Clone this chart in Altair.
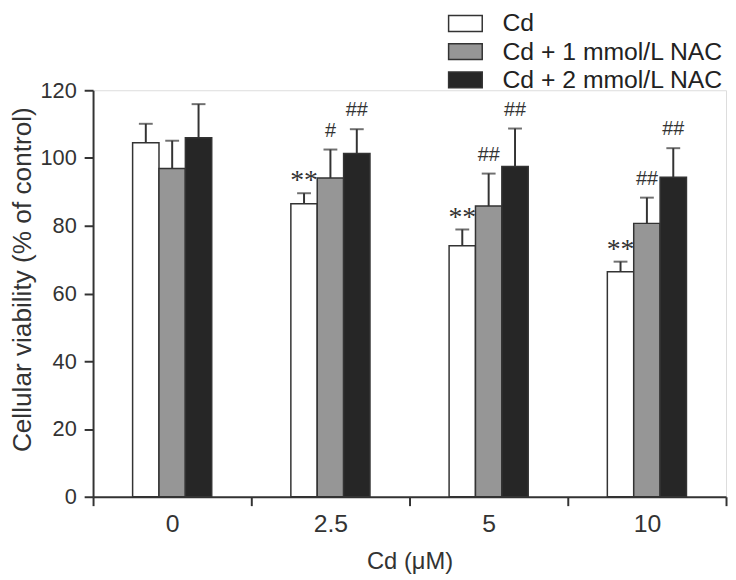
import altair as alt
import pandas as pd

doses = ["0", "2.5", "5", "10"]
series = ["Cd", "Cd + 1 mmol/L NAC", "Cd + 2 mmol/L NAC"]
cd_vals = [104.5, 86.5, 74.1, 66.4]
cd_hi = [110.1, 89.6, 78.9, 69.4]
nac1_vals = [96.9, 94.1, 85.8, 80.7]
nac1_hi = [105.1, 102.5, 95.4, 88.3]
nac2_vals = [106.0, 101.3, 97.5, 94.3]
nac2_hi = [115.9, 108.5, 108.7, 102.9]
cd_marks = ["", "**", "**", "**"]
nac1_marks = ["", "#", "##", "##"]
nac2_marks = ["", "##", "##", "##"]
colors = ["#ffffff", "#969696", "#262626"]

rows = []
for s, vals, his, marks in zip(series, [cd_vals, nac1_vals, nac2_vals],
                               [cd_hi, nac1_hi, nac2_hi],
                               [cd_marks, nac1_marks, nac2_marks]):
    for d, v, h, m in zip(doses, vals, his, marks):
        rows.append({"dose": d, "series": s, "value": v, "hi": h, "mark": m})
df = pd.DataFrame(rows)

ink = "#333333"
font = "Liberation Sans"
x = alt.X("dose:N", sort=doses,
          scale=alt.Scale(paddingInner=0, paddingOuter=0),
          axis=alt.Axis(title="Cd (μM)", labelAngle=0, tickBand="extent",
                        domainColor=ink, domainWidth=2, tickColor=ink, tickWidth=2,
                        tickSize=9, labelFont=font, labelFontSize=25,
                        labelColor=ink, labelPadding=6, titleFont=font,
                        titleFontSize=24, titleFontWeight="normal", titleColor=ink,
                        titleBaseline="middle", titleY=66))
xo = alt.XOffset("series:N", sort=series,
                 scale=alt.Scale(range=[40, 120], paddingInner=0, paddingOuter=0))
y_axis = alt.Axis(title="Cellular viability (% of control)", values=[0, 20, 40, 60, 80, 100, 120],
                  grid=False, domainColor=ink, domainWidth=2, tickColor=ink, tickWidth=2,
                  tickSize=9, labelFont=font, labelFontSize=22,
                  labelColor=ink, labelPadding=8, titleFont=font,
                  titleFontSize=26.5, titleFontWeight="normal", titleColor=ink,
                  titleBaseline="middle", titleX=-71, titleY=191)
y = alt.Y("value:Q", scale=alt.Scale(domain=[0, 120], nice=False), axis=y_axis)

legend = alt.Legend(orient="none", legendX=364, legendY=-80, title=None,
                    symbolType="M-2.125,-1H2.125V1H-2.125Z", symbolSize=256,
                    symbolStrokeColor=ink, symbolStrokeWidth=1.5, symbolOpacity=1,
                    labelFont=font, labelFontSize=25, labelColor="#222",
                    labelOffset=25, rowPadding=2.5, labelLimit=400)

base = alt.Chart(df)
bars = base.mark_bar(stroke=ink, strokeWidth=1.5).encode(
    x=x, xOffset=xo, y=y,
    color=alt.Color("series:N", sort=series,
                    scale=alt.Scale(domain=series, range=colors), legend=legend),
)
stems = base.mark_rule(color=ink, strokeWidth=2).encode(
    x=x, xOffset=xo, y="value:Q", y2="hi:Q")
caps = base.mark_tick(color=ink, orient="horizontal", size=14, thickness=2).encode(
    x=x, xOffset=xo, y="hi:Q")
stars = base.transform_filter("datum.mark == '**'").mark_text(
    font="Liberation Serif", fontSize=28, color=ink, baseline="alphabetic", dy=-4
).encode(x=x, xOffset=xo, y="hi:Q", text="mark:N")
hashes = base.transform_filter("indexof(datum.mark, '#') >= 0").mark_text(
    font=font, fontSize=20, color=ink, baseline="alphabetic", dy=-13
).encode(x=x, xOffset=xo, y="hi:Q", text="mark:N")

chart = alt.layer(bars, stems, caps, stars, hashes).properties(
    width=640, height=411,
    padding={"left": 86, "top": 80, "right": 2, "bottom": 80},
    autosize=alt.AutoSizeParams(type="none"),
).configure_view(stroke=None).configure(background="white")

chart.save("out.html", embed_options={"renderer": "svg", "actions": False})
